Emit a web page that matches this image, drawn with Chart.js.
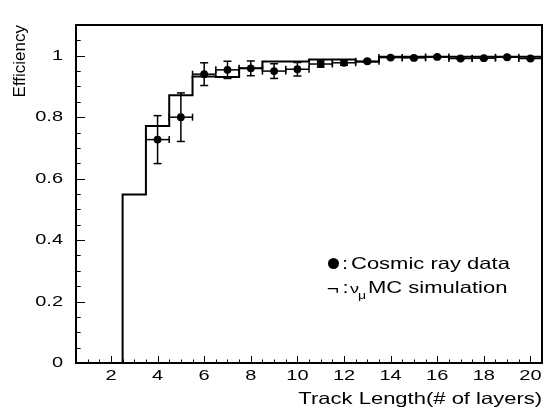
<!DOCTYPE html>
<html>
<head>
<meta charset="utf-8">
<script src="https://cdn.jsdelivr.net/npm/chart.js@4.4.1/dist/chart.umd.min.js"></script>
<style>
  html, body { margin: 0; padding: 0; background: #ffffff; }
  #c { display: block; }
</style>
</head>
<body>
<canvas id="c" width="546" height="409"></canvas>
<script>
// ---------------- data ----------------
const binCenters = [1, 2, 3, 4, 5, 6, 7, 8, 9, 10, 11, 12, 13, 14, 15, 16, 17, 18, 19, 20];
const mcEfficiency = [0, 0, 0.548, 0.771, 0.871, 0.932, 0.931, 0.959, 0.981, 0.981,
                      0.988, 0.988, 0.980, 0.997, 0.997, 0.997, 0.997, 0.997, 0.997, 0.997];
const binHalfWidth = 0.5;

const dataLayers = [4, 5, 6, 7, 8, 9, 10, 11, 12, 13, 14, 15, 16, 17, 18, 19, 20];
const dataEfficiency = [0.727, 0.800, 0.940, 0.954, 0.959, 0.950, 0.956, 0.973, 0.977,
                        0.982, 0.994, 0.993, 0.996, 0.991, 0.992, 0.995, 0.991];
const dataError = [0.078, 0.079, 0.037, 0.028, 0.024, 0.024, 0.022, 0.010, 0.008,
                   0.004, 0.003, 0.003, 0.003, 0.003, 0.003, 0.003, 0.003];

const xTickValues = [2, 4, 6, 8, 10, 12, 14, 16, 18, 20];
const xTickLabels = ['2', '4', '6', '8', '10', '12', '14', '16', '18', '20'];
const yTickValues = [0, 0.2, 0.4, 0.6, 0.8, 1];
const yTickLabels = ['0', '0.2', '0.4', '0.6', '0.8', '1'];

const xAxisTitle = 'Track Length(# of layers)';
const yAxisTitle = 'Efficiency';
const legendDataText = 'Cosmic ray data';
const legendMcText = 'MC simulation';

// ---------------- rendering ----------------
const FONT = "'Liberation Sans', Arial, Helvetica, sans-serif";
const canvas = document.getElementById('c');
const ctx = canvas.getContext('2d');

// Horizontal text in the reference looks vertically compressed: draw it squashed
// around its anchor point (rotated text is left untouched).
const TEXT_VSCALE = 0.75;
const baseFillText = ctx.fillText;
ctx.fillText = function (text, x, y, maxWidth) {
  const args = maxWidth === undefined ? [text, x, y] : [text, x, y, maxWidth];
  const m = this.getTransform();
  if (Math.abs(m.b) > 1e-6 || Math.abs(m.c) > 1e-6) return baseFillText.apply(this, args);
  const p = m.transformPoint(new DOMPoint(x, y));
  this.save();
  this.setTransform(new DOMMatrix([1, 0, 0, TEXT_VSCALE, 0, p.y * (1 - TEXT_VSCALE)]).multiply(m));
  baseFillText.apply(this, args);
  this.restore();
};

// histogram outline built from the bins
const histPoints = [];
binCenters.forEach((c, i) => {
  histPoints.push({ x: c - binHalfWidth, y: mcEfficiency[i] });
  histPoints.push({ x: c + binHalfWidth, y: mcEfficiency[i] });
});
const dataPoints = dataLayers.map((l, i) => ({ x: l, y: dataEfficiency[i] }));

function line(c, x1, y1, x2, y2) {
  c.beginPath(); c.moveTo(x1, y1); c.lineTo(x2, y2); c.stroke();
}

const errorBars = {
  id: 'errorBars',
  beforeDatasetDraw(chart, args) {
    if (args.index !== 0) return;
    const { ctx: c, scales: { x, y } } = chart;
    c.save();
    c.strokeStyle = '#000';
    c.lineWidth = 1.5;
    dataLayers.forEach((l, i) => {
      const px = x.getPixelForValue(l);
      const py = y.getPixelForValue(dataEfficiency[i]);
      const xl = x.getPixelForValue(l - binHalfWidth);
      const xr = x.getPixelForValue(l + binHalfWidth);
      const yt = y.getPixelForValue(dataEfficiency[i] + dataError[i]);
      const yb = y.getPixelForValue(dataEfficiency[i] - dataError[i]);
      line(c, xl, py, xr, py);
      line(c, xl, py - 3.5, xl, py + 3.5);
      line(c, xr, py - 3.5, xr, py + 3.5);
      line(c, px, yt, px, yb);
      line(c, px - 4, yt, px + 4, yt);
      line(c, px - 4, yb, px + 4, yb);
    });
    c.restore();
  }
};

const frameAndTicks = {
  id: 'frameAndTicks',
  afterDatasetsDraw(chart) {
    const { ctx: c, chartArea: a, scales: { x, y } } = chart;
    c.save();
    c.strokeStyle = '#000';
    c.lineWidth = 1;
    // x ticks (inward), every 0.5, long at the labelled values
    for (let i = 2; i < 41; i++) {
      const v = i * 0.5;
      const px = Math.round(x.getPixelForValue(v)) + 0.5;
      const len = xTickValues.includes(v) ? 7 : 3.5;
      line(c, px, a.bottom, px, a.bottom - len);
    }
    // y ticks (inward), every 0.05
    for (let i = 1; i <= 21; i++) {
      const v = i * 0.05;
      const py = Math.round(y.getPixelForValue(v)) + 0.5;
      const len = (i % 4 === 0) ? 9 : 4.7;
      line(c, a.left, py, a.left + len, py);
    }
    c.lineWidth = 2;
    c.strokeRect(Math.round(a.left), Math.round(a.top), Math.round(a.right - a.left), Math.round(a.bottom - a.top));
    c.restore();
  }
};

const legendBox = {
  id: 'legendBox',
  afterDraw(chart) {
    const c = chart.ctx;
    c.save();
    c.fillStyle = '#000';
    // row 1: marker + text
    c.beginPath();
    c.arc(333.5, 263.5, 5.5, 0, Math.PI * 2);
    c.fill();
    c.textAlign = 'left';
    c.textBaseline = 'alphabetic';
    c.font = '22px ' + FONT;
    c.fillText(':', 342, 269);
    c.fillText(legendDataText, 351, 269);
    // row 2: line symbol + text
    c.font = '21px ' + FONT;
    c.textAlign = 'center';
    c.fillText('\u00AC', 333, 293.5);
    c.textAlign = 'left';
    c.font = '22px ' + FONT;
    c.fillText(':', 342.5, 293.3);
    c.font = '18px ' + FONT;
    c.fillText('\u03BD', 350, 293.3);
    c.font = '14px ' + FONT;
    c.fillText('\u03BC', 358, 299);
    c.font = '22px ' + FONT;
    c.fillText(legendMcText, 368, 293.3);
    c.restore();
  }
};

new Chart(ctx, {
  type: 'scatter',
  data: {
    datasets: [
      {
        label: 'Cosmic ray data',
        data: dataPoints,
        backgroundColor: '#000',
        borderColor: '#000',
        borderWidth: 0,
        pointRadius: 3.9,
        pointHoverRadius: 3.9,
        showLine: false,
        clip: false,
        order: 0
      },
      {
        type: 'line',
        label: 'MC simulation',
        data: histPoints,
        borderColor: '#000',
        borderWidth: 2,
        pointRadius: 0,
        tension: 0,
        fill: false,
        borderJoinStyle: 'miter',
        clip: false,
        order: 1
      }
    ]
  },
  options: {
    responsive: false,
    animation: false,
    devicePixelRatio: 1,
    layout: { padding: { left: 0, right: 3, top: 12, bottom: 0 } },
    plugins: { legend: { display: false }, tooltip: { enabled: false } },
    scales: {
      x: {
        type: 'linear',
        min: 0.5,
        max: 20.5,
        grid: { display: false, drawTicks: false },
        border: { display: false },
        afterBuildTicks: (s) => { s.ticks = xTickValues.map(v => ({ value: v })); },
        afterFit: (s) => { s.height = 46; },
        ticks: {
          autoSkip: false,
          maxRotation: 0,
          padding: 1,
          color: '#000',
          font: { family: FONT, size: 20 },
          callback: (v, i) => xTickLabels[i]
        },
        title: {
          display: true,
          text: xAxisTitle,
          align: 'end',
          color: '#000',
          font: { family: FONT, size: 22, lineHeight: 0.9 },
          padding: 0
        }
      },
      y: {
        type: 'linear',
        min: 0,
        max: 1.1,
        grid: { display: false, drawTicks: false },
        border: { display: false },
        afterBuildTicks: (s) => { s.ticks = yTickValues.map(v => ({ value: v })); },
        afterFit: (s) => { s.width = 76; },
        ticks: {
          padding: 13,
          color: '#000',
          font: { family: FONT, size: 20 },
          callback: (v, i) => yTickLabels[i]
        },
        title: {
          display: true,
          text: yAxisTitle,
          align: 'end',
          color: '#000',
          font: { family: FONT, size: 17 },
          padding: { top: 10.6, bottom: 0 }
        }
      }
    }
  },
  plugins: [errorBars, frameAndTicks, legendBox]
});
</script>
</body>
</html>
